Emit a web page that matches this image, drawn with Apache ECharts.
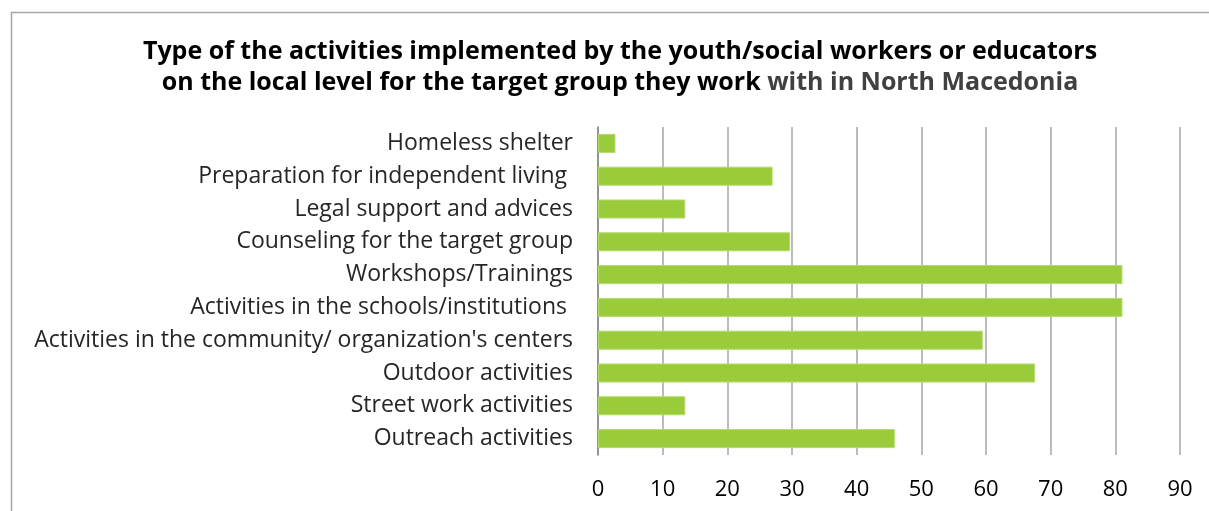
<!DOCTYPE html>
<html>
<head>
<meta charset="utf-8">
<script src="https://cdn.jsdelivr.net/npm/echarts@6/dist/echarts.min.js"></script>
<style>
  html, body { margin: 0; padding: 0; background: #ffffff; }
  #chart { width: 1209px; height: 511px; }
</style>
</head>
<body>
<div id="chart"></div>
<script>
// Activity types, listed top to bottom as they appear on the chart
const categories = [
  'Homeless shelter',
  'Preparation for independent living ',
  'Legal support and advices',
  'Counseling for the target group',
  'Workshops/Trainings',
  'Activities in the schools/institutions ',
  "Activities in the community/ organization's centers",
  'Outdoor activities',
  'Street work activities',
  'Outreach activities'
];

// Share of respondents (%) for each activity type, same order as categories
const values = [2.7, 27.0, 13.5, 29.7, 81.1, 81.1, 59.5, 67.6, 13.5, 45.9];

// Value axis ticks
const axisMin = 0;
const axisMax = 90;
const axisStep = 10;

const FONT = '"Open Sans", Lato, sans-serif';

const chart = echarts.init(document.getElementById('chart'), null, { renderer: 'canvas' });

chart.setOption({
  backgroundColor: '#ffffff',
  animation: false,
  title: {
    text: '{b|Type of the activities implemented by the youth/social workers or educators}\n' +
          '{b|on the local level for the target group they work }{g|with in North Macedonia}',
    left: 615,
    top: 31,
    textAlign: 'center',
    textStyle: {
      rich: {
        b: { fontFamily: FONT, fontSize: 25, fontWeight: 'bold', color: '#000000', lineHeight: 31 },
        g: { fontFamily: FONT, fontSize: 25, fontWeight: 'bold', color: '#404040', lineHeight: 31 }
      }
    }
  },
  graphic: [{
    type: 'rect',
    shape: { x: 11.5, y: 12.5, width: 1220, height: 520 },
    style: { fill: 'none', stroke: '#a6a6a6', lineWidth: 1.5 },
    silent: true
  }],
  grid: { left: 598, right: 29, top: 127, bottom: 56, containLabel: false },
  xAxis: {
    type: 'value',
    min: axisMin,
    max: axisMax,
    interval: axisStep,
    axisLine: { show: false },
    axisTick: { show: false },
    axisLabel: { fontFamily: FONT, fontSize: 22, color: '#000000', margin: 24 },
    splitLine: { show: true, lineStyle: { color: '#a6a6a6', width: 1.5 } }
  },
  yAxis: {
    type: 'category',
    data: categories,
    inverse: true,
    axisLine: { show: true, lineStyle: { color: '#868686', width: 1.5 } },
    axisTick: { show: false },
    axisLabel: { fontFamily: FONT, fontSize: 23, color: '#262626', margin: 25, padding: [3, 0, 0, 0] }
  },
  series: [{
    type: 'bar',
    data: values,
    barCategoryGap: '42%',
    itemStyle: { color: '#9acb3b', borderColor: '#b4da6c', borderWidth: 1 }
  }]
});
</script>
</body>
</html>
